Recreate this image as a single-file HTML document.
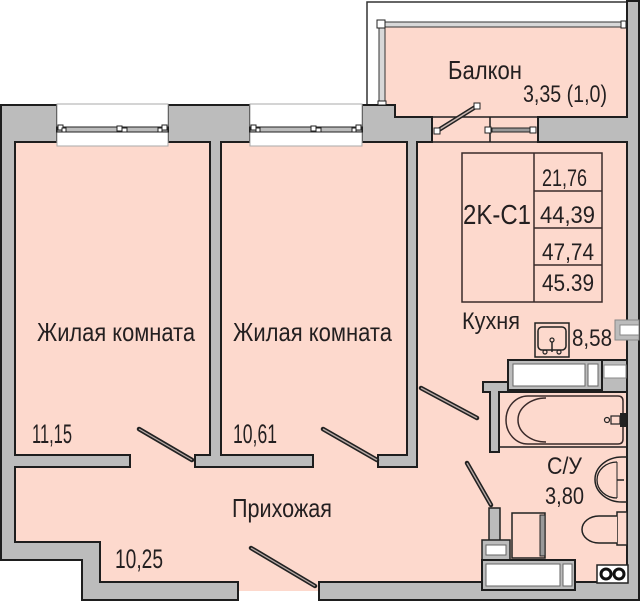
<!DOCTYPE html>
<html><head><meta charset="utf-8">
<style>
html,body{margin:0;padding:0;background:#fff;}
svg{display:block;}
text{font-family:"Liberation Sans","DejaVu Sans",sans-serif;fill:#231f20;}
</style></head><body>
<svg width="640" height="602" viewBox="0 0 640 602" xmlns="http://www.w3.org/2000/svg">
<!-- pink floors -->
<polygon points="15,142 627,142 627,583 100,583 100,542 15,542" fill="#fdd9cd"/>
<rect x="238" y="582" width="81" height="9" fill="#fdd9cd"/>
<rect x="382" y="25" width="245" height="117" fill="#fdd9cd"/>

<!-- balcony outer thin line -->
<path d="M367,105 L367,2 L627,2" fill="none" stroke="#333" stroke-width="1.5"/>

<!-- walls -->
<g fill="#bcbcbc" stroke="#1e1e1e" stroke-width="2" stroke-linejoin="miter">
<polygon points="1,105 57,105 57,142 15,142 15,455 130,455 130,467 15,467 15,542 100,542 100,582 238,582 238,600 82,600 82,560 1,560"/>
<polygon points="168,105 250,105 250,142 221,142 221,455 313,455 313,467 195,467 195,455 210,455 210,142 168,142"/>
<polygon points="362,105 395,105 395,117 432,117 432,142 417,142 417,467 378,467 378,455 407,455 407,142 362,142"/>
<polygon points="538,117 627,117 627,1 639,1 639,600 319,600 319,582 627,582 627,142 538,142"/>
<polygon points="483,382 627,382 627,392 499,392 499,452 490,452 490,392 483,392"/>
<rect x="602" y="360" width="25" height="32"/>
</g>
<rect x="604" y="365" width="22" height="13" fill="#fff" stroke="#888" stroke-width="1"/>

<!-- windows -->
<g>
<rect x="57" y="104" width="111" height="42" fill="#fff" stroke="#aaa" stroke-width="1"/>
<rect x="57" y="127" width="111" height="5" fill="#bcbcbc" stroke="#222" stroke-width="1"/>
<rect x="58" y="125" width="5" height="5" fill="#fff" stroke="#222" stroke-width="1"/>
<rect x="62" y="128" width="4" height="4" fill="#fff" stroke="#222" stroke-width="1"/>
<rect x="117" y="126" width="5" height="5" fill="#fff" stroke="#222" stroke-width="1"/>
<rect x="122" y="128" width="5" height="4" fill="#fff" stroke="#222" stroke-width="1"/>
<rect x="158" y="128" width="4" height="4" fill="#fff" stroke="#222" stroke-width="1"/>
<rect x="162" y="125" width="5" height="5" fill="#fff" stroke="#222" stroke-width="1"/>

<rect x="250" y="104" width="112" height="42" fill="#fff" stroke="#aaa" stroke-width="1"/>
<rect x="250" y="127" width="112" height="5" fill="#bcbcbc" stroke="#222" stroke-width="1"/>
<rect x="251" y="125" width="5" height="5" fill="#fff" stroke="#222" stroke-width="1"/>
<rect x="256" y="128" width="4" height="4" fill="#fff" stroke="#222" stroke-width="1"/>
<rect x="311" y="126" width="5" height="5" fill="#fff" stroke="#222" stroke-width="1"/>
<rect x="316" y="128" width="5" height="4" fill="#fff" stroke="#222" stroke-width="1"/>
<rect x="352" y="128" width="4" height="4" fill="#fff" stroke="#222" stroke-width="1"/>
<rect x="356" y="125" width="5" height="5" fill="#fff" stroke="#222" stroke-width="1"/>
</g>

<!-- balcony glazing -->
<rect x="379" y="26" width="6" height="79" fill="#d8d8d8" stroke="#333" stroke-width="1"/>
<rect x="382" y="22" width="244" height="5" fill="#d8d8d8" stroke="#333" stroke-width="1"/>
<rect x="377" y="20" width="8" height="8" fill="#fff" stroke="#222" stroke-width="1"/>
<rect x="621" y="21" width="5" height="7" fill="#fff" stroke="#222" stroke-width="1"/>
<rect x="378" y="101" width="8" height="4" fill="#fff" stroke="#222" stroke-width="1"/>

<!-- balcony door area -->
<g stroke="#1e1e1e" stroke-width="1.5" fill="none">
<line x1="432" y1="117" x2="538" y2="117"/>
<line x1="432" y1="142" x2="538" y2="142"/>
<line x1="490" y1="117" x2="490" y2="142"/>
</g>
<line x1="437" y1="131" x2="477" y2="106" stroke="#222" stroke-width="4.5"/>
<line x1="437" y1="131" x2="477" y2="106" stroke="#c9b6b0" stroke-width="1.5"/>
<rect x="434" y="128" width="6" height="6" fill="#fff" stroke="#222" stroke-width="1"/>
<rect x="474" y="103" width="6" height="6" fill="#fff" stroke="#222" stroke-width="1"/>
<rect x="492" y="128" width="42" height="4" fill="#999" stroke="#222" stroke-width="1"/>
<rect x="485" y="127" width="6" height="6" fill="#fff" stroke="#222" stroke-width="1"/>
<rect x="530" y="127" width="6" height="6" fill="#fff" stroke="#222" stroke-width="1"/>

<!-- door leaves -->
<g stroke="#222" stroke-width="4.5" stroke-linecap="round">
<line x1="139" y1="429" x2="192" y2="460"/>
<line x1="323" y1="429" x2="377" y2="460"/>
<line x1="421" y1="388" x2="477" y2="418"/>
<line x1="467" y1="463" x2="491" y2="505"/>
<line x1="251" y1="548" x2="315" y2="586"/>
</g>
<g stroke="#b8aaa6" stroke-width="1.3">
<line x1="139" y1="429" x2="192" y2="460"/>
<line x1="323" y1="429" x2="377" y2="460"/>
<line x1="421" y1="388" x2="477" y2="418"/>
<line x1="467" y1="463" x2="491" y2="505"/>
<line x1="251" y1="548" x2="315" y2="586"/>
</g>

<!-- kitchen table -->
<g stroke="#3a2a2a" stroke-width="1.5" fill="none">
<rect x="462" y="153" width="140" height="149"/>
<line x1="534" y1="153" x2="534" y2="302"/>
<line x1="534" y1="191" x2="602" y2="191"/>
<line x1="534" y1="228" x2="602" y2="228"/>
<line x1="534" y1="265" x2="602" y2="265"/>
</g>

<!-- kitchen sink -->
<rect x="535" y="323" width="34" height="34" fill="#fdd9cd" stroke="#222" stroke-width="1.5"/>
<rect x="538" y="327" width="28" height="23" rx="4" fill="none" stroke="#222" stroke-width="1.5"/>
<circle cx="552" cy="340" r="2" fill="none" stroke="#222" stroke-width="1.2"/>
<line x1="552" y1="342" x2="552" y2="352" stroke="#222" stroke-width="1.5"/>
<circle cx="545" cy="352" r="2" fill="none" stroke="#222" stroke-width="1.2"/>
<circle cx="559" cy="352" r="2" fill="none" stroke="#222" stroke-width="1.2"/>

<!-- right wall small window -->
<rect x="615" y="320" width="24" height="20" fill="#bcbcbc" stroke="#888" stroke-width="1"/>
<rect x="620" y="325" width="19" height="10" fill="#fff" stroke="#888" stroke-width="1"/>

<!-- kitchen counter -->
<rect x="508" y="360" width="94" height="30" fill="#bcbcbc" stroke="#1e1e1e" stroke-width="2"/>
<rect x="513" y="364" width="72" height="22" fill="#fff" stroke="#666" stroke-width="1"/>
<rect x="588" y="364" width="10" height="22" fill="#fff" stroke="#666" stroke-width="1"/>

<!-- bathtub -->
<line x1="499" y1="447" x2="627" y2="447" stroke="#1e1e1e" stroke-width="1.5"/>
<path d="M528,396 L618,396 Q623,396 623,401 L623,439 Q623,444 618,444 L528,444 A22,24 0 0 1 528,396 Z" fill="none" stroke="#3a2a2a" stroke-width="1.5"/>
<path d="M546,398 A28,22 0 0 0 546,442" fill="none" stroke="#3a2a2a" stroke-width="1.5"/>
<circle cx="607" cy="420" r="2.5" fill="none" stroke="#222" stroke-width="1.2"/>
<rect x="611" y="416" width="9" height="8" fill="none" stroke="#222" stroke-width="1.2"/>
<rect x="620" y="413" width="6" height="14" fill="#222"/>

<!-- washbasin -->
<path d="M627,457 L622,457 A27,22.5 0 0 0 622,502 L627,502" fill="none" stroke="#222" stroke-width="1.5"/>
<path d="M617,462 A20,18 0 0 0 617,498" fill="none" stroke="#222" stroke-width="1.3"/>
<line x1="617" y1="462" x2="617" y2="498" stroke="#222" stroke-width="1"/>
<line x1="617" y1="480" x2="624" y2="480" stroke="#222" stroke-width="1.5"/>

<!-- toilet -->
<rect x="617" y="512" width="10" height="33" fill="#fdd9cd" stroke="#222" stroke-width="1.5"/>
<path d="M617,516 L599,516 A17,13.5 0 0 0 599,543 L617,543" fill="#fdd9cd" stroke="#222" stroke-width="1.5"/>

<!-- washing machine / boiler -->
<rect x="512" y="513" width="33" height="45" fill="#fdd9cd" stroke="#222" stroke-width="1.5"/>
<rect x="540" y="515" width="5" height="41" fill="#999" stroke="#222" stroke-width="1"/>
<rect x="489" y="508" width="11" height="33" fill="#bcbcbc" stroke="#222" stroke-width="1.5"/>
<rect x="482" y="540" width="28" height="20" fill="#bcbcbc" stroke="#222" stroke-width="1.5"/>
<rect x="486" y="545" width="20" height="10" fill="#fff" stroke="#666" stroke-width="1"/>

<!-- bottom counter -->
<rect x="482" y="560" width="93" height="30" fill="#bcbcbc" stroke="#1e1e1e" stroke-width="2"/>
<rect x="486" y="564" width="74" height="22" fill="#fff" stroke="#666" stroke-width="1"/>
<rect x="563" y="564" width="9" height="22" fill="#fff" stroke="#666" stroke-width="1"/>

<!-- stove -->
<rect x="597" y="565" width="31" height="18" fill="#fff" stroke="#222" stroke-width="1.5"/>
<circle cx="606" cy="574" r="5" fill="#fff" stroke="#111" stroke-width="3"/>
<circle cx="619" cy="574" r="5" fill="#fff" stroke="#111" stroke-width="3"/>

<!-- labels -->
<text x="448" y="79" font-size="26" textLength="74" lengthAdjust="spacingAndGlyphs">Балкон</text>
<text x="523" y="102" font-size="24" textLength="84" lengthAdjust="spacingAndGlyphs">3,35 (1,0)</text>
<text x="37" y="341" font-size="26" textLength="158" lengthAdjust="spacingAndGlyphs">Жилая комната</text>
<text x="233" y="341" font-size="26" textLength="159" lengthAdjust="spacingAndGlyphs">Жилая комната</text>
<text x="32" y="443" font-size="27" textLength="40" lengthAdjust="spacingAndGlyphs">11,15</text>
<text x="233" y="443" font-size="27" textLength="44" lengthAdjust="spacingAndGlyphs">10,61</text>
<text x="232" y="517" font-size="26" textLength="100" lengthAdjust="spacingAndGlyphs">Прихожая</text>
<text x="115" y="568" font-size="27" textLength="48" lengthAdjust="spacingAndGlyphs">10,25</text>
<text x="463" y="224" font-size="28" textLength="68" lengthAdjust="spacingAndGlyphs">2K-C1</text>
<text x="542" y="186" font-size="24" textLength="45" lengthAdjust="spacingAndGlyphs">21,76</text>
<text x="540" y="223" font-size="24" textLength="55" lengthAdjust="spacingAndGlyphs">44,39</text>
<text x="542" y="260" font-size="24" textLength="52" lengthAdjust="spacingAndGlyphs">47,74</text>
<text x="542" y="291" font-size="24" textLength="52" lengthAdjust="spacingAndGlyphs">45.39</text>
<text x="462" y="329" font-size="24" textLength="58" lengthAdjust="spacingAndGlyphs">Кухня</text>
<text x="572" y="346" font-size="24" textLength="40" lengthAdjust="spacingAndGlyphs">8,58</text>
<text x="547" y="474" font-size="24" textLength="35" lengthAdjust="spacingAndGlyphs">С/У</text>
<text x="545" y="504" font-size="24" textLength="39" lengthAdjust="spacingAndGlyphs">3,80</text>
</svg>
</body></html>
